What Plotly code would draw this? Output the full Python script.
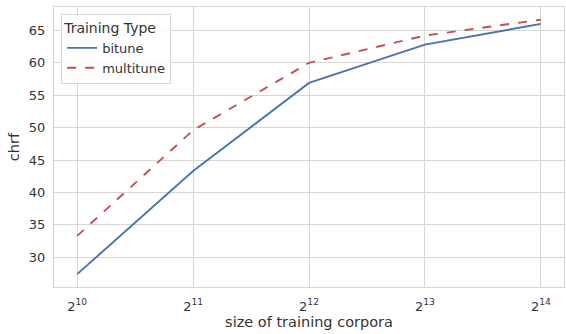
import plotly.graph_objects as go
import math

sizes = [1024, 2048, 4096, 8192, 16384]
tick_labels = ["2<sup>10</sup>", "2<sup>11</sup>", "2<sup>12</sup>", "2<sup>13</sup>", "2<sup>14</sup>"]
bitune = [27.4, 43.3, 56.9, 62.8, 66.0]
multitune = [33.3, 49.6, 60.0, 64.2, 66.65]

fig = go.Figure()
fig.add_trace(go.Scatter(x=sizes, y=bitune, mode="lines", name="bitune",
                         line=dict(color="#4c72b0", width=1.9)))
fig.add_trace(go.Scatter(x=sizes, y=multitune, mode="lines", name="multitune",
                         line=dict(color="#c44e52", width=1.9, dash="dash")))

font = dict(family="DejaVu Sans", size=13, color="#333333")
grid = "#d6d6d6"
fig.update_layout(
    width=566, height=334,
    margin=dict(l=54, r=2, t=7, b=47),
    paper_bgcolor="white", plot_bgcolor="white",
    font=font,
    showlegend=True,
    legend=dict(title=dict(text="Training Type", font=dict(size=14)),
                x=0.014, y=0.976, xanchor="left", yanchor="top",
                bgcolor="rgba(255,255,255,0.85)", bordercolor="#d6d6d6", borderwidth=1,
                font=dict(size=13), tracegroupgap=0),
)
fig.update_xaxes(type="log", range=[math.log10(2**9.8), math.log10(2**14.2)],
                 tickvals=sizes, ticktext=tick_labels,
                 showgrid=True, gridcolor=grid, gridwidth=1.2,
                 showline=True, linecolor=grid, linewidth=1.2, mirror=True,
                 ticks="outside", ticklen=7, tickcolor="rgba(0,0,0,0)",
                 zeroline=False,
                 title=dict(text="size of training corpora", standoff=3, font=dict(size=14.5)))
fig.update_yaxes(range=[25.42, 68.61], tickvals=[30, 35, 40, 45, 50, 55, 60, 65],
                 showgrid=True, gridcolor=grid, gridwidth=1.2,
                 showline=True, linecolor=grid, linewidth=1.2, mirror=True,
                 ticks="outside", ticklen=5, tickcolor="rgba(0,0,0,0)",
                 zeroline=False,
                 title=dict(text="chrf", standoff=5, font=dict(size=14.5)))

fig.write_html("out.html")
